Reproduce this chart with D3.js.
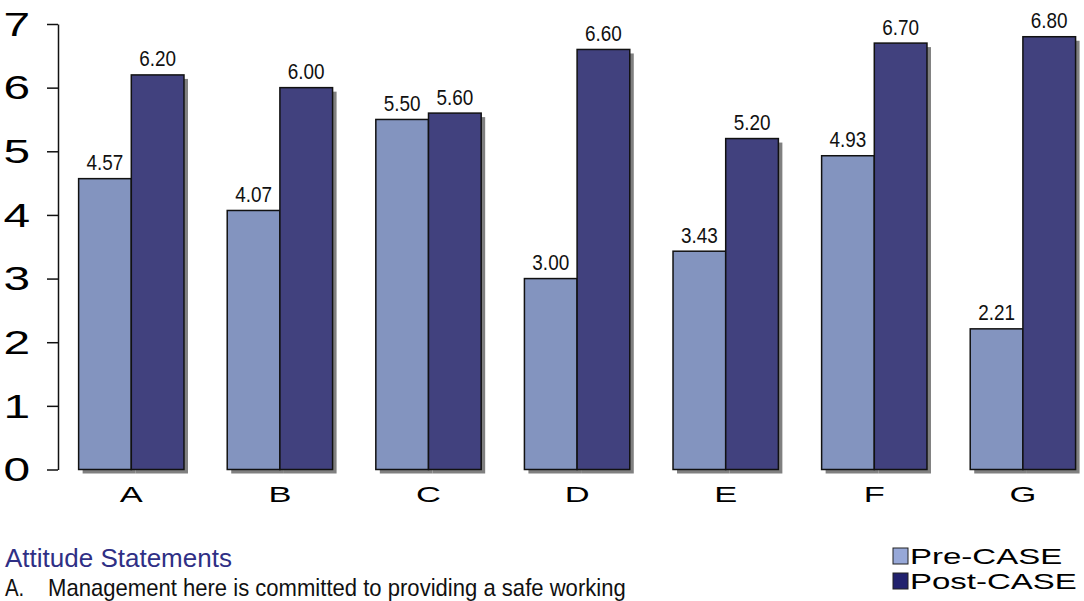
<!DOCTYPE html>
<html><head><meta charset="utf-8">
<script src="https://cdn.jsdelivr.net/npm/d3@7"></script>
<style>body{margin:0;background:#fff}svg{display:block}</style>
</head><body>
<script>
const categories = ["A","B","C","D","E","F","G"];
const seriesNames = ["Pre-CASE","Post-CASE"];
const preValues = [4.57,4.07,5.50,3.00,3.43,4.93,2.21];
const postValues = [6.20,6.00,5.60,6.60,5.20,6.70,6.80];
const yTicks = [0,1,2,3,4,5,6,7];
const titleText = "Attitude Statements";
const statementLetter = "A.";
const statementText = "Management here is committed to providing a safe working";

const W = 1084, H = 601;
const colors = {"Pre-CASE":"#8394bf","Post-CASE":"#41417e"};
const legendColors = {"Pre-CASE":"#97a8d8","Post-CASE":"#22226e"};
const data = categories.map((c,i)=>({cat:c, vals:[{s:"Pre-CASE",v:preValues[i]},{s:"Post-CASE",v:postValues[i]}]}));

const svg = d3.select("body").append("svg").attr("width",W).attr("height",H);

const x = d3.scaleBand().domain(categories).range([57,1097.2]).paddingInner(0.291).paddingOuter(0.1455);
const xs = d3.scaleBand().domain(seriesNames).range([0,x.bandwidth()]);
const y = d3.scaleLinear().domain([0,7]).range([469.5,24]);

// axis
const ax = svg.append("g").attr("transform","translate(58,0)")
  .call(d3.axisLeft(y).tickValues(yTicks).tickSize(11).tickSizeOuter(0).tickFormat(""));
ax.select(".domain").attr("stroke","#111").attr("stroke-width",1.5);
ax.selectAll(".tick line").attr("stroke","#111").attr("stroke-width",1.5);

svg.append("g").selectAll("text").data(yTicks).join("text")
  .attr("transform",d=>`translate(30,${y(d)+11.8}) scale(1.45,1)`)
  .attr("text-anchor","end").attr("font-family","Liberation Sans, Arial, sans-serif")
  .attr("font-size",33).attr("fill","#000").text(d=>d);

const groups = svg.append("g").selectAll("g").data(data).join("g")
  .attr("transform",d=>`translate(${x(d.cat)},0)`);

// shadows
groups.selectAll("rect.sh").data(d=>d.vals).join("rect").attr("class","sh")
  .attr("x",d=>xs(d.s)+4).attr("y",d=>y(d.v)+4)
  .attr("width",xs.bandwidth()).attr("height",d=>y(0)-y(d.v))
  .attr("fill","#808080");
// bars
groups.selectAll("rect.bar").data(d=>d.vals).join("rect").attr("class","bar")
  .attr("x",d=>xs(d.s)).attr("y",d=>y(d.v))
  .attr("width",xs.bandwidth()).attr("height",d=>y(0)-y(d.v))
  .attr("fill",d=>colors[d.s]).attr("stroke","#111").attr("stroke-width",1.5);
// value labels
groups.selectAll("text.val").data(d=>d.vals).join("text").attr("class","val")
  .attr("transform",d=>`translate(${xs(d.s)+xs.bandwidth()/2},${y(d.v)-8.5}) scale(0.86,1)`)
  .attr("text-anchor","middle").attr("font-family","Liberation Sans, Arial, sans-serif")
  .attr("font-size",22).attr("fill","#111").text(d=>d.v.toFixed(2));

// x labels
svg.append("g").selectAll("text").data(categories).join("text")
  .attr("transform",d=>`translate(${x(d)+x.bandwidth()/2},501.7) scale(1.5,1)`)
  .attr("text-anchor","middle").attr("font-family","Liberation Sans, Arial, sans-serif")
  .attr("font-size",23).attr("fill","#000").text(d=>d);

// title and statement
svg.append("text").attr("x",5).attr("y",566.7)
  .attr("font-family","Liberation Sans, Arial, sans-serif").attr("font-size",26)
  .attr("fill","#2f2f85").text(titleText);
svg.append("text").attr("transform","translate(5,596) scale(0.85,1)")
  .attr("font-family","Liberation Sans, Arial, sans-serif").attr("font-size",24)
  .attr("fill","#111").text(statementLetter);
svg.append("text").attr("transform","translate(48,596) scale(0.92,1)")
  .attr("font-family","Liberation Sans, Arial, sans-serif").attr("font-size",24)
  .attr("fill","#111").text(statementText);

// legend
const lg = svg.append("g").selectAll("g").data(seriesNames).join("g")
  .attr("transform",(d,i)=>`translate(893,${548+i*25})`);
lg.append("rect").attr("width",15).attr("height",16)
  .attr("fill",d=>legendColors[d]).attr("stroke","#222").attr("stroke-width",1);
lg.append("text").attr("transform","translate(17,16) scale(1.5,1)")
  .attr("font-family","Liberation Sans, Arial, sans-serif").attr("font-size",22)
  .attr("fill","#000").text(d=>d);
</script>
</body></html>
